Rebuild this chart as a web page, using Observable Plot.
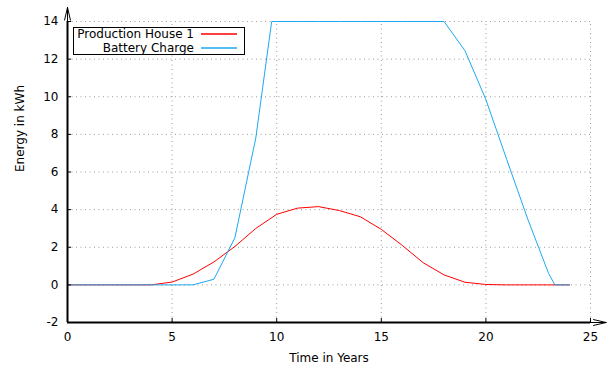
<!DOCTYPE html>
<html><head><meta charset="utf-8">
<script src="https://cdn.jsdelivr.net/npm/d3@7"></script>
<script src="https://cdn.jsdelivr.net/npm/@observablehq/plot@0.6"></script>
<style>
body{margin:0;background:#fff;font-family:"DejaVu Sans",sans-serif;}
#wrap{position:relative;width:612px;height:371px;}
#legend{position:absolute;left:73px;top:27px;width:172px;height:28px;box-sizing:border-box;border:1px solid #000;background:#fff;font-size:12px;color:#000;}
#legend .lab{position:absolute;right:50px;line-height:14px;white-space:nowrap;}
#legend .swatch{position:absolute;left:127px;width:36px;height:2px;opacity:0.75;}
</style></head><body><div id="wrap"></div>
<script>
// ---- data ----
const hours = [0,1,2,3,4,5,6,7,8,9,10,11,12,13,14,15,16,17,18,19,20,21,22,23,24];
const production = [0,0,0,0,0,0.15,0.57,1.22,2.04,3.0,3.75,4.08,4.16,3.95,3.62,2.95,2.1,1.18,0.53,0.14,0.02,0,0,0,0];
const batteryX = [0,1,2,3,4,5,6,7,8,9,9.76,10,11,12,13,14,15,16,17,18,19,20,21,22,23,23.3,24];
const battery  = [0,0,0,0,0,0,0,0.3,2.5,7.8,14,14,14,14,14,14,14,14,14,14,12.45,9.85,6.65,3.5,0.6,0,0];
const seriesNames = ["Production House 1","Battery Charge"];
const seriesColors = ["#ff0000","#1ea8f0"];
const xTicks = [0,5,10,15,20,25];
const yTicks = [-2,0,2,4,6,8,10,12,14];
const xDomain = [0,25];
const yDomain = [-2,14];
const xArrowEnd = 25.75;
const yArrowEnd = 14.75;
const xLabel = "Time in Years";
const yLabel = "Energy in kWh";

const prodData = hours.map((h,i)=>({x:h, y:production[i]}));
const battData = batteryX.map((h,i)=>({x:h, y:battery[i]}));
const grid = {stroke:"#9a9a9a", strokeWidth:1, strokeDasharray:"1,3.5"};

const chart = Plot.plot({
  width:612, height:371,
  marginLeft:67, marginRight:22, marginTop:21, marginBottom:49,
  style:{fontFamily:"DejaVu Sans", fontSize:"12px", background:"transparent", color:"#000"},
  x:{domain:xDomain, ticks:xTicks, tickSize:0, tickPadding:10, label:null, tickFormat:d=>String(d)},
  y:{domain:yDomain, ticks:yTicks, tickSize:0, tickPadding:9, label:null, tickFormat:d=>String(d)},
  marks:[
    Plot.ruleY(yTicks.filter(v=>v>yDomain[0]), {x1:xDomain[0], x2:xDomain[1], ...grid}),
    Plot.ruleX(xTicks.filter(v=>v>xDomain[0]), {y1:yDomain[0], y2:yDomain[1], ...grid}),
    Plot.line(prodData, {x:"x", y:"y", stroke:seriesColors[0], strokeWidth:1}),
    Plot.line(battData, {x:"x", y:"y", stroke:seriesColors[1], strokeWidth:1}),
    Plot.ruleX(xTicks, {y1:yDomain[0], y2:yDomain[0], insetBottom:4, stroke:"#000"}),
    Plot.ruleY(yTicks, {x1:xDomain[0], x2:xDomain[0], insetRight:-4, stroke:"#000"}),
    Plot.ruleY([yDomain[0]], {x1:xDomain[0], x2:xDomain[1], stroke:"#000", strokeWidth:2}),
    Plot.ruleX([xDomain[0]], {y1:yDomain[0], y2:yDomain[1], stroke:"#000", strokeWidth:2}),
    Plot.arrow([{x1:xDomain[0], y1:yDomain[0], x2:xArrowEnd, y2:yDomain[0]}], {x1:"x1", y1:"y1", x2:"x2", y2:"y2", stroke:"#000", strokeWidth:1, headLength:19.5, headAngle:26}),
    Plot.arrow([{x1:xDomain[0], y1:yDomain[0], x2:xDomain[0], y2:yArrowEnd}], {x1:"x1", y1:"y1", x2:"x2", y2:"y2", stroke:"#000", strokeWidth:1, headLength:19.5, headAngle:26}),
    Plot.text([xLabel], {text:d=>d, frameAnchor:"bottom", lineAnchor:"middle", dy:35.5, fontSize:12}),
    Plot.text([yLabel], {text:d=>d, frameAnchor:"left", lineAnchor:"middle", dx:-47, rotate:-90, fontSize:12})
  ]
});
const wrap = document.getElementById("wrap");
wrap.appendChild(chart);

const legend = document.createElement("div");
legend.id = "legend";
seriesNames.forEach((name,i)=>{
  const lab = document.createElement("span");
  lab.className = "lab";
  lab.textContent = name;
  lab.style.top = (i===0 ? -1.5 : 12.5) + "px";
  legend.appendChild(lab);
  const sw = document.createElement("div");
  sw.className = "swatch";
  sw.style.background = seriesColors[i];
  sw.style.top = (i===0 ? 5 : 19) + "px";
  legend.appendChild(sw);
});
wrap.appendChild(legend);
</script>
</body></html>
